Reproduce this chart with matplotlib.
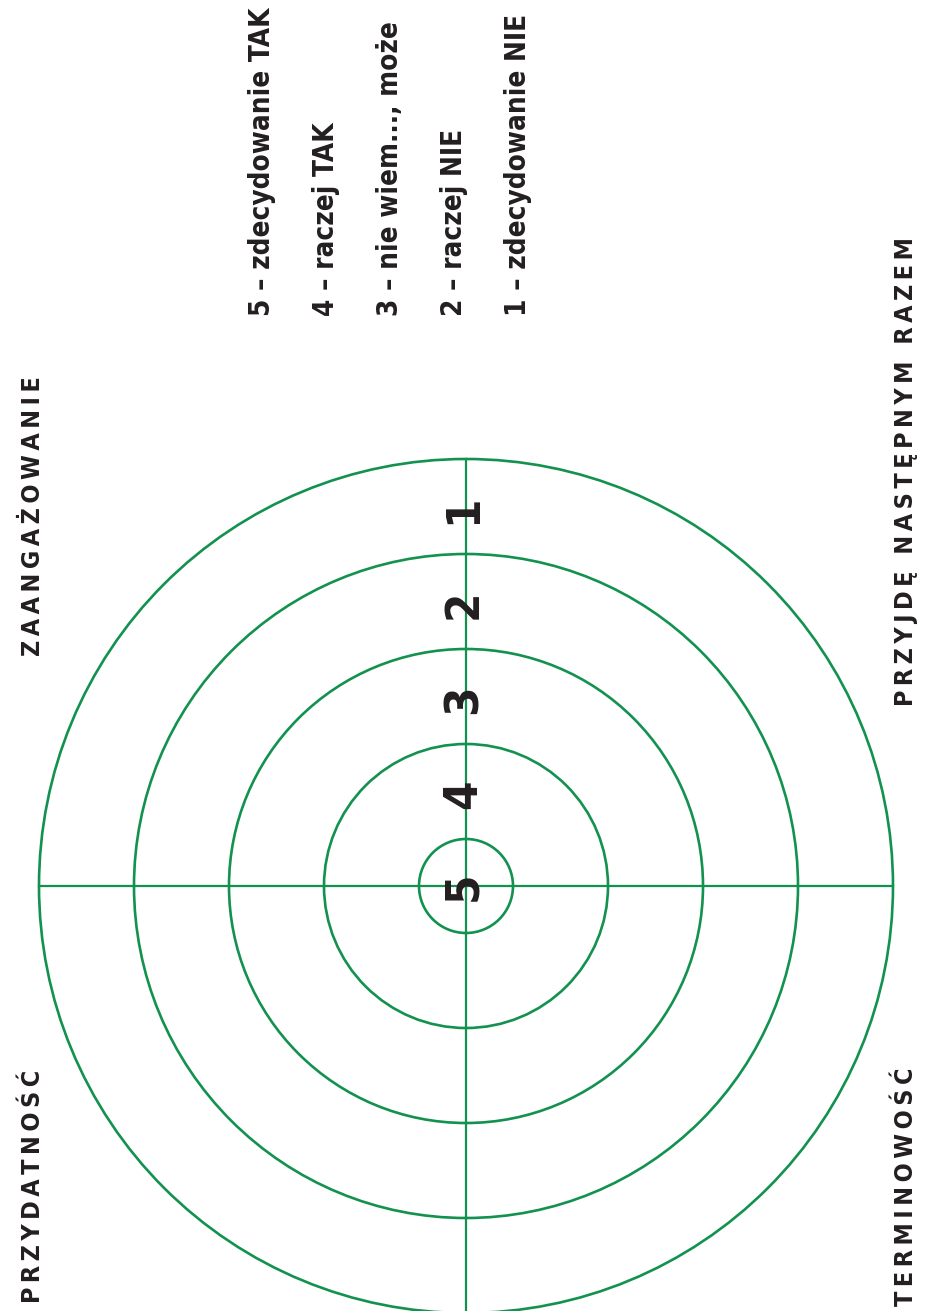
import matplotlib
matplotlib.use("Agg")
import matplotlib.pyplot as plt
from matplotlib.patches import Circle

# target rings: value -> radius (px), drawn from inside out
ring_values = [5, 4, 3, 2, 1]
ring_radii = [47, 142, 237, 332, 427]

# legend for the scale
legend_lines = ['5 – zdecydowanie TAK', '4 – raczej TAK', '3 – nie wiem..., może',
                '2 – raczej NIE', '1 – zdecydowanie NIE']

# quarter titles (left side top/bottom, right side top/bottom)
axis_titles = ['ZAANGAŻOWANIE', 'PRZYDATNOŚĆ', 'PRZYJDĘ NASTĘPNYM RAZEM', 'TERMINOWOŚĆ']

green = '#12914f'
ink = '#231f20'
cx, cy = 466, 886
W, H = 931, 1311

fig = plt.figure(figsize=(W / 100, H / 100), dpi=100)
ax = fig.add_axes([0, 0, 1, 1])
ax.set_xlim(0, W)
ax.set_ylim(H, 0)
ax.set_aspect('equal')
ax.axis('off')

for r in ring_radii:
    ax.add_patch(Circle((cx, cy), r, fill=False, edgecolor=green, linewidth=1.9))

# cross: horizontal full width of outer ring, vertical from top of outer ring down
outer = ring_radii[-1]
ax.plot([cx - outer, cx + outer], [cy, cy], color=green, linewidth=1.6)
ax.plot([cx, cx], [cy - outer, cy + outer], color=green, linewidth=1.6)

# numbers in the middle of each ring along the vertical line
num_font = ['DejaVu Sans']
prev = 0
for v, r in zip(ring_values, ring_radii):
    pos = 0 if v == 5 else (prev + r) / 2 - 3
    ax.text(cx - 2, cy - pos, str(v), rotation=90, ha='center', va='center',
            fontsize=34, fontweight='bold', fontstretch='condensed', color=ink, family=num_font)
    prev = r

# legend (rotated, reading bottom to top)
for i, line in enumerate(legend_lines):
    ax.text(262 + i * 64, 316, line, rotation=90, ha='center', va='bottom',
            fontsize=20, fontweight='bold', fontstretch='condensed', color=ink, family=num_font)

def spaced(s):
    return '\u2009'.join(s)

# titles start (bottom end of the rotated text) at these points
title_pos = [(33, 656), (33, 1303), (906, 706), (906, 1306)]
for t, (x, y) in zip(axis_titles, title_pos):
    ax.text(x, y, spaced(t), rotation=90, ha='center', va='bottom',
            fontsize=18, fontweight='bold', fontstretch='condensed', color=ink, family=num_font)

fig.savefig('out.png', dpi=100)
